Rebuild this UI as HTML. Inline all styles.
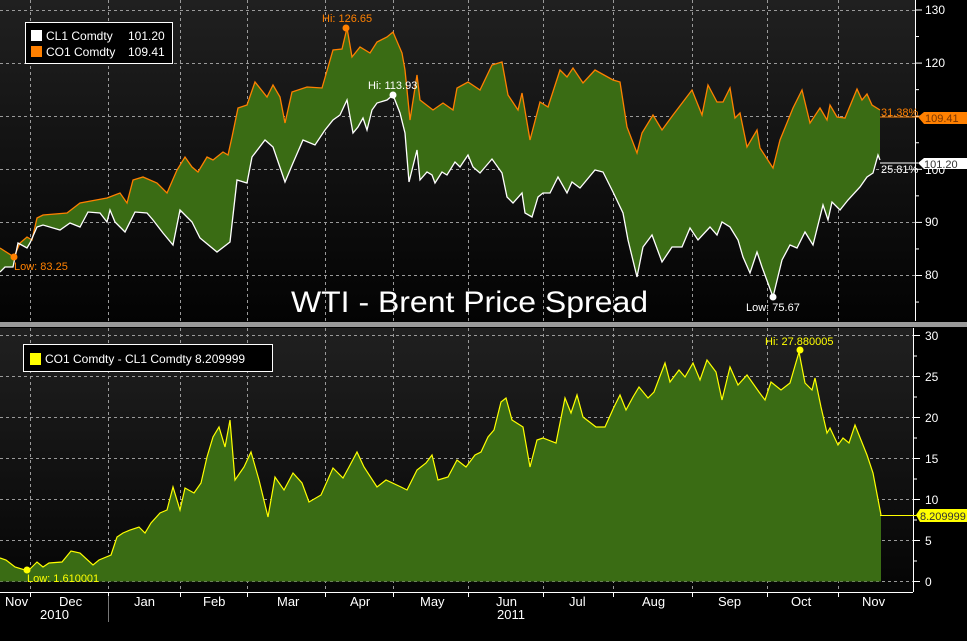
<!DOCTYPE html>
<html><head><meta charset="utf-8"><style>
html,body{margin:0;padding:0;background:#000;}
svg{display:block;font-family:"Liberation Sans",sans-serif;}
</style></head><body>
<svg id="s" width="967" height="641" viewBox="0 0 967 641" xmlns="http://www.w3.org/2000/svg">
<defs>
<linearGradient id="bg1" x1="0" y1="0" x2="0" y2="1"><stop offset="0" stop-color="#202020"/><stop offset="1" stop-color="#030303"/></linearGradient>
<linearGradient id="bg2" x1="0" y1="0" x2="0" y2="1"><stop offset="0" stop-color="#202020"/><stop offset="1" stop-color="#050505"/></linearGradient>
</defs>
<rect x="0" y="0" width="967" height="641" fill="#000"/>
<rect x="0" y="0" width="915" height="322" fill="url(#bg1)"/>
<rect x="0" y="328" width="913" height="264" fill="url(#bg2)"/>
<rect x="0" y="322" width="967" height="5" fill="#9a9a9a"/>
<g id="grid" stroke="#9a9a9a" stroke-width="1" stroke-dasharray="3,3" fill="none"></g>
<g id="series"></g>
<!-- axes -->
<line x1="915.5" y1="0" x2="915.5" y2="321" stroke="#fff"/>
<line x1="913.5" y1="328" x2="913.5" y2="592" stroke="#fff"/>
<line x1="0" y1="592.5" x2="913" y2="592.5" stroke="#fff"/>
<g id="ticks" stroke="#fff"></g>
<g fill="#fff" font-size="12">
<text x="925" y="14">130</text><text x="925" y="67">120</text><text x="925" y="226">90</text><text x="925" y="279">80</text>
<text x="925" y="340">30</text><text x="925" y="381">25</text><text x="925" y="422">20</text><text x="925" y="463">15</text><text x="925" y="504">10</text><text x="925" y="545">5</text><text x="925" y="586">0</text>
<text x="925" y="174">100</text>
</g>
<g fill="#fff" font-size="13">
<text x="5" y="606">Nov</text><text x="59" y="606">Dec</text><text x="134" y="606">Jan</text><text x="203" y="606">Feb</text><text x="277" y="606">Mar</text><text x="350" y="606">Apr</text><text x="420" y="606">May</text><text x="496" y="606">Jun</text><text x="569" y="606">Jul</text><text x="642" y="606">Aug</text><text x="718" y="606">Sep</text><text x="791" y="606">Oct</text><text x="862" y="606">Nov</text>
<text x="40" y="619">2010</text><text x="497" y="619">2011</text>
</g>
<line x1="108.5" y1="596" x2="108.5" y2="622" stroke="#777"/>
<!-- value labels -->
<line x1="880" y1="117" x2="918" y2="117" stroke="#ff8000"/>
<polygon points="918,117 924,112 967,112 967,124 924,124" fill="#ff8000"/>
<text x="925" y="122" font-size="11" fill="#7a3500">109.41</text>
<text x="881" y="116" font-size="11" fill="#ff8000">31.38%</text>
<line x1="880" y1="163" x2="918" y2="163" stroke="#fff"/>
<polygon points="918,163 924,158 967,158 967,169 924,169" fill="#fff"/>
<text x="924" y="168" font-size="11" fill="#333">101.20</text>
<text x="881" y="173" font-size="11" fill="#fff">25.81%</text>
<line x1="880" y1="515.5" x2="917" y2="515.5" stroke="#ffff00"/>
<polygon points="916,515 920,509 967,509 967,522 920,522" fill="#ffff00"/>
<text x="920" y="520" font-size="11" fill="#333">8.209999</text>
<!-- markers -->
<circle cx="14" cy="257" r="3.5" fill="#ff8000"/><text x="14" y="270" font-size="11" fill="#ff8000">Low: 83.25</text>
<circle cx="346" cy="28" r="3.5" fill="#ff8000"/><text x="322" y="22" font-size="11" fill="#ff8000">Hi: 126.65</text>
<circle cx="393" cy="95" r="3.5" fill="#fff"/><text x="368" y="89" font-size="11" fill="#fff">Hi: 113.93</text>
<circle cx="773" cy="297" r="3.5" fill="#fff"/><text x="746" y="311" font-size="11" fill="#fff">Low: 75.67</text>
<circle cx="27" cy="570" r="3.5" fill="#ffff00"/><text x="27" y="582" font-size="11" fill="#ffff00">Low: 1.610001</text>
<circle cx="800" cy="350" r="3.5" fill="#ffff00"/><text x="765" y="345" font-size="11" fill="#ffff00">Hi: 27.880005</text>
<!-- legends -->
<rect x="25.5" y="22.5" width="147" height="41" fill="#000" stroke="#fff"/>
<rect x="31" y="30" width="11" height="11" fill="#fff"/><rect x="31" y="46" width="11" height="11" fill="#ff8000"/>
<g fill="#fff" font-size="12"><text x="46" y="40">CL1 Comdty</text><text x="128" y="40">101.20</text><text x="46" y="56">CO1 Comdty</text><text x="128" y="56">109.41</text></g>
<rect x="23.5" y="344.5" width="249" height="27" fill="#000" stroke="#fff"/>
<rect x="30" y="353" width="11" height="12" fill="#ffff00"/>
<text x="45" y="363" font-size="12" fill="#fff">CO1 Comdty - CL1 Comdty  8.209999</text>
<text x="291" y="312" font-size="30" fill="#fff" textLength="357" lengthAdjust="spacingAndGlyphs">WTI - Brent Price Spread</text>
</svg>
<script>
var NS="http://www.w3.org/2000/svg";
function el(p,t,a){var e=document.createElementNS(NS,t);for(var k in a)e.setAttribute(k,a[k]);p.appendChild(e);return e;}
var g=document.getElementById('grid');
var vx=[30,108,180,247,325,393,468,543,613,692,767,838];
vx.forEach(function(x){el(g,'line',{x1:x+.5,y1:0,x2:x+.5,y2:321});el(g,'line',{x1:x+.5,y1:328,x2:x+.5,y2:592});});
[10,63,116,169,222,275].forEach(function(y){el(g,'line',{x1:0,y1:y+.5,x2:915,y2:y+.5});});
[335.5,376.5,417.5,458.5,499.5,540.5,581.5].forEach(function(y){el(g,'line',{x1:0,y1:y,x2:913,y2:y});});
var tk=document.getElementById('ticks');
for(var v=75;v<=130;v+=5){var y=10+(130-v)*5.31;el(tk,'line',{x1:915,y1:y,x2:v%10==0?922:919,y2:y});}
for(var v=0;v<=30;v+=2.5){var y=581.5-v*8.2;el(tk,'line',{x1:913,y1:y,x2:v%5==0?920:917,y2:y});}
vx.forEach(function(x){el(tk,'line',{x1:x+.5,y1:592,x2:x+.5,y2:597});});
var O=[[0,248],[14,257],[20,243],[27,237],[32,240],[37,218],[43,215],[67,213],[80,203],[107,198],[120,193],[127,203],[133,180],[143,177],[157,183],[167,193],[177,170],[185,157],[192,167],[198,172],[207,157],[213,160],[223,152],[228,155],[232,137],[238,108],[247,105],[255,82],[267,97],[273,85],[280,97],[285,123],[292,92],[307,87],[322,88],[333,50],[342,49],[347,28],[352,57],[360,47],[370,53],[377,42],[387,37],[393,32],[402,53],[405,70],[410,120],[417,75],[420,100],[433,110],[443,103],[453,110],[457,88],[468,82],[477,88],[480,90],[492,65],[502,62],[508,95],[518,110],[522,93],[530,140],[540,102],[548,107],[560,70],[567,77],[573,68],[583,83],[595,70],[613,80],[620,82],[627,127],[637,153],[642,133],[653,115],[662,130],[673,115],[692,90],[702,115],[708,85],[717,102],[723,102],[730,88],[735,118],[740,113],[747,147],[757,130],[760,148],[773,168],[780,140],[793,108],[802,90],[810,123],[820,108],[827,120],[830,105],[837,117],[845,118],[857,89],[862,100],[867,94],[872,105],[880,110]];
var W=[[0,272],[5,267],[13,267],[18,243],[27,248],[30,243],[37,227],[43,225],[60,230],[70,223],[80,227],[88,212],[100,213],[107,222],[110,210],[115,222],[125,232],[135,212],[147,213],[153,220],[163,233],[173,245],[180,210],[192,222],[200,238],[217,252],[230,242],[237,180],[247,183],[252,157],[265,140],[273,147],[285,182],[293,163],[303,140],[315,145],[325,130],[333,120],[340,115],[347,100],[353,133],[358,127],[363,118],[367,130],[372,110],[377,103],[387,100],[393,95],[400,113],[405,133],[409,182],[417,150],[420,180],[427,172],[432,175],[435,183],[442,172],[447,175],[455,162],[460,167],[468,155],[473,167],[480,173],[492,159],[502,173],[507,197],[513,203],[522,193],[525,213],[532,217],[538,197],[543,193],[550,193],[558,177],[567,193],[572,182],[580,188],[595,170],[603,172],[613,192],[623,213],[628,240],[637,277],[643,247],[652,235],[662,262],[672,247],[682,247],[690,228],[698,240],[710,227],[717,235],[722,222],[730,227],[738,240],[743,257],[750,273],[757,252],[762,267],[773,297],[782,260],[790,245],[797,248],[805,232],[813,245],[823,205],[828,220],[832,202],[840,210],[848,200],[860,187],[867,177],[873,173],[878,155],[880,160]];
var S=[[0,558],[6,560],[15,567],[28,571],[37,562],[43,567],[49,563],[62,562],[71,551],[80,553],[93,565],[99,560],[111,555],[117,537],[123,533],[130,530],[139,527],[145,533],[151,523],[160,513],[167,510],[173,487],[180,510],[185,488],[194,493],[201,483],[207,457],[213,437],[219,427],[225,447],[230,420],[235,480],[244,467],[251,452],[259,480],[268,517],[275,477],[284,490],[293,473],[302,483],[309,502],[321,495],[333,468],[343,478],[349,467],[357,452],[364,467],[377,487],[386,480],[401,487],[407,490],[417,470],[426,463],[432,455],[438,480],[448,477],[457,460],[466,467],[475,455],[481,452],[488,437],[494,430],[501,402],[506,398],[512,420],[523,427],[530,467],[537,440],[543,438],[556,443],[565,398],[571,413],[577,395],[583,417],[596,427],[605,427],[614,407],[620,395],[626,410],[633,397],[639,387],[648,398],[654,392],[665,363],[670,382],[679,370],[685,377],[693,363],[700,380],[707,360],[716,372],[722,400],[730,367],[738,385],[747,375],[759,392],[765,400],[771,382],[781,390],[790,383],[799,352],[805,383],[812,390],[815,378],[821,407],[827,433],[830,428],[838,445],[843,438],[849,443],[855,425],[861,440],[867,455],[873,473],[881,515]];
function ps(a){return a.map(function(p){return p[0]+','+p[1];}).join(' ');}
var sr=document.getElementById('series');
el(sr,'polygon',{points:ps(O)+' '+ps(W.slice().reverse()),fill:'#3a6c14'});
el(sr,'polyline',{points:ps(O),fill:'none',stroke:'#ff8000','stroke-width':1.3});
el(sr,'polyline',{points:ps(W),fill:'none',stroke:'#fff','stroke-width':1.3});
el(sr,'polygon',{points:ps(S)+' 881,581.5 0,581.5',fill:'#3a6c14'});
el(sr,'polyline',{points:ps(S),fill:'none',stroke:'#ffff00','stroke-width':1.2});
</script>
</body></html>
